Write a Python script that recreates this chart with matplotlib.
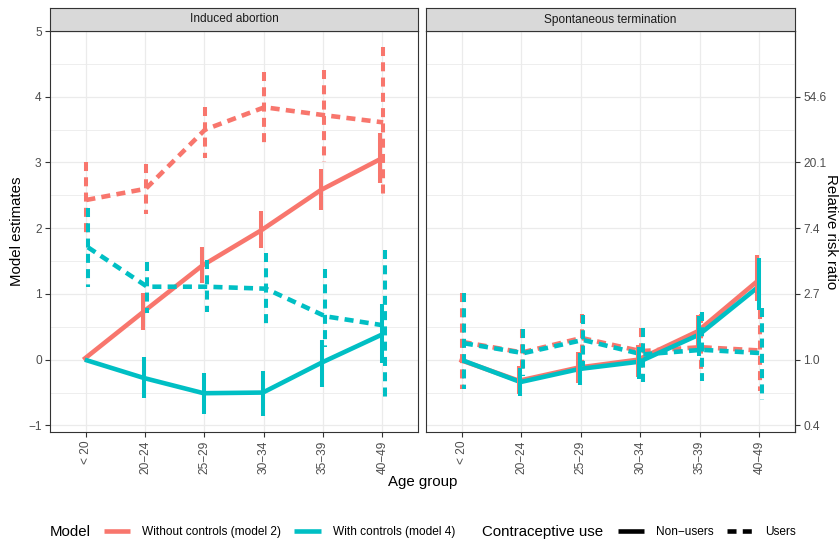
import numpy as np
import matplotlib
matplotlib.use("Agg")
import matplotlib.pyplot as plt
from matplotlib.lines import Line2D

plt.rcParams["font.family"] = ["Liberation Sans", "DejaVu Sans"]
plt.rcParams["axes.unicode_minus"] = True

# ---- data ----
age_groups = ["< 20", "20−24", "25−29", "30−34", "35−39", "40−49"]
panel_titles = ["Induced abortion", "Spontaneous termination"]
model_labels = ["Without controls (model 2)", "With controls (model 4)"]
use_labels = ["Non−users", "Users"]

# Induced abortion
ia_m2_non = [0.00, 0.72, 1.43, 1.97, 2.58, 3.05]
ia_m2_non_lo = [np.nan, 0.45, 1.17, 1.70, 2.27, 2.69]
ia_m2_non_hi = [np.nan, 1.01, 1.72, 2.26, 2.90, 3.45]
ia_m2_user = [2.43, 2.60, 3.50, 3.84, 3.72, 3.61]
ia_m2_user_lo = [1.87, 2.21, 3.07, 3.30, 3.01, 2.48]
ia_m2_user_hi = [3.00, 2.98, 3.84, 4.38, 4.41, 4.76]
ia_m4_non = [0.00, -0.28, -0.51, -0.50, -0.04, 0.38]
ia_m4_non_lo = [np.nan, -0.58, -0.83, -0.86, -0.42, -0.05]
ia_m4_non_hi = [np.nan, 0.04, -0.20, -0.17, 0.30, 0.85]
ia_m4_user = [1.71, 1.11, 1.11, 1.08, 0.66, 0.52]
ia_m4_user_lo = [1.10, 0.71, 0.72, 0.52, 0.20, -0.62]
ia_m4_user_hi = [2.31, 1.49, 1.52, 1.62, 1.38, 1.67]

# Spontaneous termination
st_m2_non = [0.00, -0.32, -0.12, 0.00, 0.43, 1.19]
st_m2_non_lo = [np.nan, -0.52, -0.36, -0.27, 0.18, 0.89]
st_m2_non_hi = [np.nan, -0.10, 0.12, 0.22, 0.68, 1.60]
st_m2_user = [0.27, 0.11, 0.33, 0.13, 0.19, 0.14]
st_m2_user_lo = [-0.45, -0.20, -0.05, -0.30, -0.18, -0.48]
st_m2_user_hi = [1.01, 0.46, 0.70, 0.48, 0.70, 0.75]
st_m4_non = [0.00, -0.34, -0.14, -0.03, 0.38, 1.11]
st_m4_non_lo = [np.nan, -0.55, -0.38, -0.30, 0.05, 0.76]
st_m4_non_hi = [np.nan, -0.12, 0.10, 0.20, 0.66, 1.55]
st_m4_user = [0.25, 0.10, 0.30, 0.08, 0.15, 0.10]
st_m4_user_lo = [-0.45, -0.25, -0.10, -0.34, -0.33, -0.61]
st_m4_user_hi = [1.01, 0.46, 0.68, 0.48, 0.72, 0.79]

# (model, use) -> (est, lo, hi), in ggplot group order
panel_data = [
    {(0, 0): (ia_m2_non, ia_m2_non_lo, ia_m2_non_hi),
     (0, 1): (ia_m2_user, ia_m2_user_lo, ia_m2_user_hi),
     (1, 0): (ia_m4_non, ia_m4_non_lo, ia_m4_non_hi),
     (1, 1): (ia_m4_user, ia_m4_user_lo, ia_m4_user_hi)},
    {(0, 0): (st_m2_non, st_m2_non_lo, st_m2_non_hi),
     (0, 1): (st_m2_user, st_m2_user_lo, st_m2_user_hi),
     (1, 0): (st_m4_non, st_m4_non_lo, st_m4_non_hi),
     (1, 1): (st_m4_user, st_m4_user_lo, st_m4_user_hi)},
]

# ---- style ----
colors = ["#F8766D", "#00BFC4"]
dodge = {(0, 0): -0.038, (1, 0): -0.013, (0, 1): 0.013, (1, 1): 0.038}
line_w = 3.3
bar_w = 2.9
dash_on, dash_off = 6.5, 4.5   # points


def lstyle(use, lw):
    if use == 0:
        return "solid"
    return (0, (dash_on / lw, dash_off / lw))


grey_text = "#4D4D4D"
grey_line = "#333333"
grid_col = "#EBEBEB"

W, H = 840, 540
fig = plt.figure(figsize=(W / 100, H / 100), dpi=100)


def frac(x0, y0, x1, y1):
    return [x0 / W, 1 - y1 / H, (x1 - x0) / W, (y1 - y0) / H]


ax_l = fig.add_axes(frac(50, 31, 418, 432))
ax_r = fig.add_axes(frac(426, 31, 795, 432))
strips = [fig.add_axes(frac(50, 8, 418, 31)), fig.add_axes(frac(426, 8, 795, 31))]

x = np.arange(len(age_groups))

for ax, data, strip, title in zip([ax_l, ax_r], panel_data, strips, panel_titles):
    # lines
    for key, (est, lo, hi) in data.items():
        m, u = key
        ax.plot(x + dodge[key], est, color=colors[m], lw=line_w,
                linestyle=lstyle(u, line_w), solid_capstyle="butt",
                dash_capstyle="butt", solid_joinstyle="round", zorder=3)
    # error bars
    for key, (est, lo, hi) in data.items():
        m, u = key
        for xi, l, h in zip(x + dodge[key], lo, hi):
            if np.isnan(l):
                continue
            ax.plot([xi, xi], [h, l], color=colors[m], lw=bar_w,
                    linestyle=lstyle(u, bar_w), solid_capstyle="butt",
                    dash_capstyle="butt", zorder=4)

    ax.set_xlim(-0.6, len(age_groups) - 0.4)
    ax.set_ylim(-1.1, 5.0)
    ax.set_xticks(x)
    ax.set_xticklabels(age_groups, rotation=90, fontsize=8.6, color=grey_text)
    ax.set_yticks(range(-1, 6))
    ax.set_yticks(np.arange(-0.5, 5.0, 1.0), minor=True)
    ax.grid(True, which="major", color=grid_col, lw=0.9, zorder=0)
    ax.grid(True, which="minor", axis="y", color=grid_col, lw=0.6, zorder=0)
    ax.set_axisbelow(True)
    ax.tick_params(which="major", length=3.8, width=0.8, color=grey_line,
                   labelcolor=grey_text, labelsize=8.6, pad=2.2)
    ax.tick_params(which="minor", length=0)
    for sp in ax.spines.values():
        sp.set_color(grey_line)
        sp.set_linewidth(0.8)

    strip.set_facecolor("#D9D9D9")
    strip.set_xticks([])
    strip.set_yticks([])
    for sp in strip.spines.values():
        sp.set_color(grey_line)
        sp.set_linewidth(0.8)
    strip.text(0.5, 0.5, title, ha="center", va="center", fontsize=8.6,
               color="#1A1A1A", transform=strip.transAxes)

ax_l.set_yticklabels(["−1", "0", "1", "2", "3", "4", "5"])
ax_r.tick_params(axis="y", which="both", left=False, labelleft=False)

sec = ax_r.secondary_yaxis("right")
sec_ticks = list(range(-1, 5))
sec.set_yticks(sec_ticks)
sec.set_yticklabels([f"{np.exp(v):.1f}" for v in sec_ticks])
sec.tick_params(length=3.8, width=0.8, color=grey_line, labelcolor=grey_text,
                labelsize=8.6, pad=2.2)
sec.spines["right"].set_color(grey_line)
sec.spines["right"].set_linewidth(0.8)

# axis titles
fig.text(17 / W, 1 - 231.5 / H, "Model estimates", rotation=90, ha="center",
         va="center", fontsize=10.8)
fig.text(422.5 / W, 1 - 482 / H, "Age group", ha="center", va="center",
         fontsize=10.8)
fig.text(831 / W, 1 - 231.5 / H, "Relative risk ratio", rotation=-90,
         ha="center", va="center", fontsize=10.8)

# legends
leg_y = 1 - 532 / H
fig.text(50 / W, leg_y, "Model", ha="left", va="center", fontsize=10.8)
model_handles = [Line2D([], [], color=c, lw=line_w, solid_capstyle="butt")
                 for c in colors]
fig.legend(model_handles, model_labels, loc="center left",
           bbox_to_anchor=(104 / W, leg_y), ncol=2, frameon=False,
           fontsize=8.6, handlelength=2.2, handletextpad=1.0,
           columnspacing=1.1, borderpad=0, borderaxespad=0)

fig.text(482 / W, leg_y, "Contraceptive use", ha="left", va="center",
         fontsize=10.8)
use_handles = [Line2D([], [], color="black", lw=line_w,
                      linestyle=lstyle(u, line_w), solid_capstyle="butt",
                      dash_capstyle="butt") for u in range(2)]
fig.legend(use_handles, use_labels, loc="center left",
           bbox_to_anchor=(618 / W, leg_y), ncol=2, frameon=False,
           fontsize=8.6, handlelength=2.2, handletextpad=1.0,
           columnspacing=1.1, borderpad=0, borderaxespad=0)

fig.savefig("out.png", dpi=100)
